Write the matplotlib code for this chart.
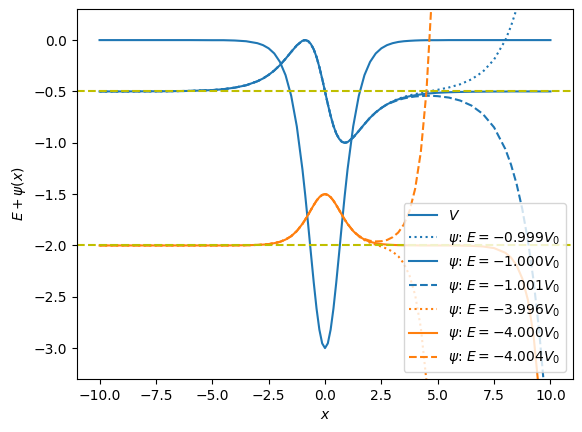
import numpy as np
import matplotlib
matplotlib.use("Agg")
import matplotlib.pyplot as plt

nan = np.nan

# sample positions (shared by every curve)
x = [-10, -9, -8, -7, -6, -5, -4.5, -4, -3.5, -3,
     -2.75, -2.5, -2.25, -2, -1.75, -1.5, -1.25,
     -1, -0.875, -0.75, -0.625, -0.5, -0.375, -0.25, -0.125, 0,
     0.125, 0.25, 0.375, 0.5, 0.625, 0.75, 0.875, 1,
     1.25, 1.5, 1.75, 2, 2.25, 2.5, 2.75, 3, 3.25, 3.5, 3.75, 4, 4.25, 4.5, 4.75,
     5, 5.5, 6, 6.5, 7, 7.5, 8,
     8.25, 8.5, 8.75, 9, 9.25, 9.5, 9.75, 10]

# potential
V = [0, 0, 0, 0, 0, -0.001, -0.001, -0.004, -0.011, -0.030,
     -0.049, -0.080, -0.130, -0.212, -0.341, -0.542, -0.841,
     -1.260, -1.514, -1.790, -2.077, -2.359, -2.615, -2.820, -2.954, -3.0,
     -2.954, -2.820, -2.615, -2.359, -2.077, -1.790, -1.514, -1.260,
     -0.841, -0.542, -0.341, -0.212, -0.130, -0.080, -0.049, -0.030, -0.018, -0.011, -0.007, -0.004, -0.002, -0.001, -0.001,
     -0.001, 0, 0, 0, 0, 0, 0,
     0, 0, 0, 0, 0, 0, 0, 0]

# first excited level (E = -V0 and neighbours)
psi1_hi = [-0.500, -0.500, -0.499, -0.498, -0.495, -0.487, -0.478, -0.463, -0.440, -0.401,
           -0.374, -0.339, -0.296, -0.244, -0.182, -0.115, -0.051,
           -0.006, 0.000, -0.009, -0.039, -0.090, -0.165, -0.263, -0.377, -0.500,
           -0.623, -0.737, -0.835, -0.910, -0.961, -0.991, -1.000, -0.994,
           -0.949, -0.885, -0.818, -0.756, -0.704, -0.661, -0.626, -0.595, -0.572, -0.553, -0.538, -0.526, -0.515, -0.504, -0.494,
           -0.484, -0.461, -0.430, -0.382, -0.308, -0.189, 0.000,
           0.136, 0.306, 0.522, nan, nan, nan, nan, nan]
psi1 = [-0.500, -0.500, -0.499, -0.498, -0.495, -0.487, -0.478, -0.463, -0.440, -0.401,
        -0.374, -0.339, -0.296, -0.244, -0.182, -0.115, -0.051,
        -0.006, 0.000, -0.009, -0.039, -0.090, -0.165, -0.263, -0.377, -0.500,
        -0.623, -0.737, -0.835, -0.910, -0.961, -0.991, -1.000, -0.994,
        -0.949, -0.885, -0.818, -0.756, -0.704, -0.661, -0.626, -0.599, -0.577, -0.560, -0.547, -0.537, -0.529, -0.522, -0.517,
        -0.513, -0.508, -0.505, -0.503, -0.502, -0.501, -0.501,
        -0.500, -0.500, -0.500, -0.500, -0.500, -0.500, -0.500, -0.500]
psi1_lo = [-0.500, -0.500, -0.499, -0.498, -0.495, -0.487, -0.478, -0.463, -0.440, -0.401,
           -0.374, -0.339, -0.296, -0.244, -0.182, -0.115, -0.051,
           -0.006, 0.000, -0.009, -0.039, -0.090, -0.165, -0.263, -0.377, -0.500,
           -0.623, -0.737, -0.835, -0.910, -0.961, -0.991, -1.000, -0.994,
           -0.949, -0.885, -0.818, -0.756, -0.704, -0.661, -0.626, -0.604, -0.583, -0.568, -0.557, -0.549, -0.545, -0.542, -0.543,
           -0.546, -0.560, -0.589, -0.638, -0.719, -0.850, -1.062,
           -1.212, -1.403, -1.645, -1.952, -2.341, -2.835, -3.457, nan]

# ground level (E = -4 V0 and neighbours)
psi0_hi = [-2.000, -2.000, -2.000, -2.000, -2.000, -2.000, -2.000, -1.999, -1.998, -1.995,
           -1.992, -1.987, -1.978, -1.965, -1.943, -1.910, -1.860,
           -1.790, -1.748, -1.702, -1.654, -1.607, -1.564, -1.530, -1.508, -1.500,
           -1.508, -1.530, -1.564, -1.607, -1.654, -1.702, -1.748, -1.790,
           -1.860, -1.913, -1.948, -1.974, -1.993, -2.011, -2.032, -2.061, -2.105, -2.177, -2.294, -2.485, -2.800, -3.320, -4.180,
           nan, nan, nan, nan, nan, nan, nan,
           nan, nan, nan, nan, nan, nan, nan, nan]
psi0 = [-2.000, -2.000, -2.000, -2.000, -2.000, -2.000, -2.000, -1.999, -1.998, -1.995,
        -1.992, -1.987, -1.978, -1.965, -1.943, -1.910, -1.860,
        -1.790, -1.748, -1.702, -1.654, -1.607, -1.564, -1.530, -1.508, -1.500,
        -1.508, -1.530, -1.564, -1.607, -1.654, -1.702, -1.748, -1.790,
        -1.860, -1.910, -1.943, -1.965, -1.978, -1.987, -1.992, -1.995, -1.997, -1.998, -1.999, -1.999, -2.000, -2.000, -2.000,
        -2.000, -2.000, -2.001, -2.004, -2.010, -2.026, -2.072,
        -2.118, -2.195, -2.322, -2.531, -2.876, -3.443, nan, nan]
psi0_lo = [-2.000, -2.000, -2.000, -2.000, -2.000, -2.000, -2.000, -1.999, -1.998, -1.995,
           -1.992, -1.987, -1.978, -1.965, -1.943, -1.910, -1.860,
           -1.790, -1.748, -1.702, -1.654, -1.607, -1.564, -1.530, -1.508, -1.500,
           -1.508, -1.530, -1.564, -1.607, -1.654, -1.702, -1.748, -1.790,
           -1.860, -1.906, -1.937, -1.955, -1.961, -1.959, -1.947, -1.920, -1.874, -1.795, -1.664, -1.447, -1.090, -0.500, 0.470,
           nan, nan, nan, nan, nan, nan, nan,
           nan, nan, nan, nan, nan, nan, nan, nan]

levels = [-0.5, -2.0]

fig = plt.figure(figsize=(5.82, 4.32), dpi=100)
ax = fig.add_axes([77 / 582, 53.1 / 432, 496 / 582, 369.6 / 432])

ax.plot(x, V, color='C0', label=r'$V$')
ax.plot(x, psi1_hi, ':', color='C0', label=r'$\psi$: $E=-0.999V_0$')
ax.plot(x, psi1, '-', color='C0', label=r'$\psi$: $E=-1.000V_0$')
ax.plot(x, psi1_lo, '--', color='C0', label=r'$\psi$: $E=-1.001V_0$')
ax.plot(x, psi0_hi, ':', color='C1', label=r'$\psi$: $E=-3.996V_0$')
ax.plot(x, psi0, '-', color='C1', label=r'$\psi$: $E=-4.000V_0$')
ax.plot(x, psi0_lo, '--', color='C1', label=r'$\psi$: $E=-4.004V_0$')

for lvl in levels:
    ax.axhline(lvl, color='y', linestyle='--')

ax.set_xlim(-11, 11)
ax.set_ylim(-3.3, 0.3)
ax.set_xlabel(r'$x$')
ax.set_ylabel(r'$E+\psi(x)$')
ax.legend(loc='lower right')

fig.savefig('out.png', dpi=100)
